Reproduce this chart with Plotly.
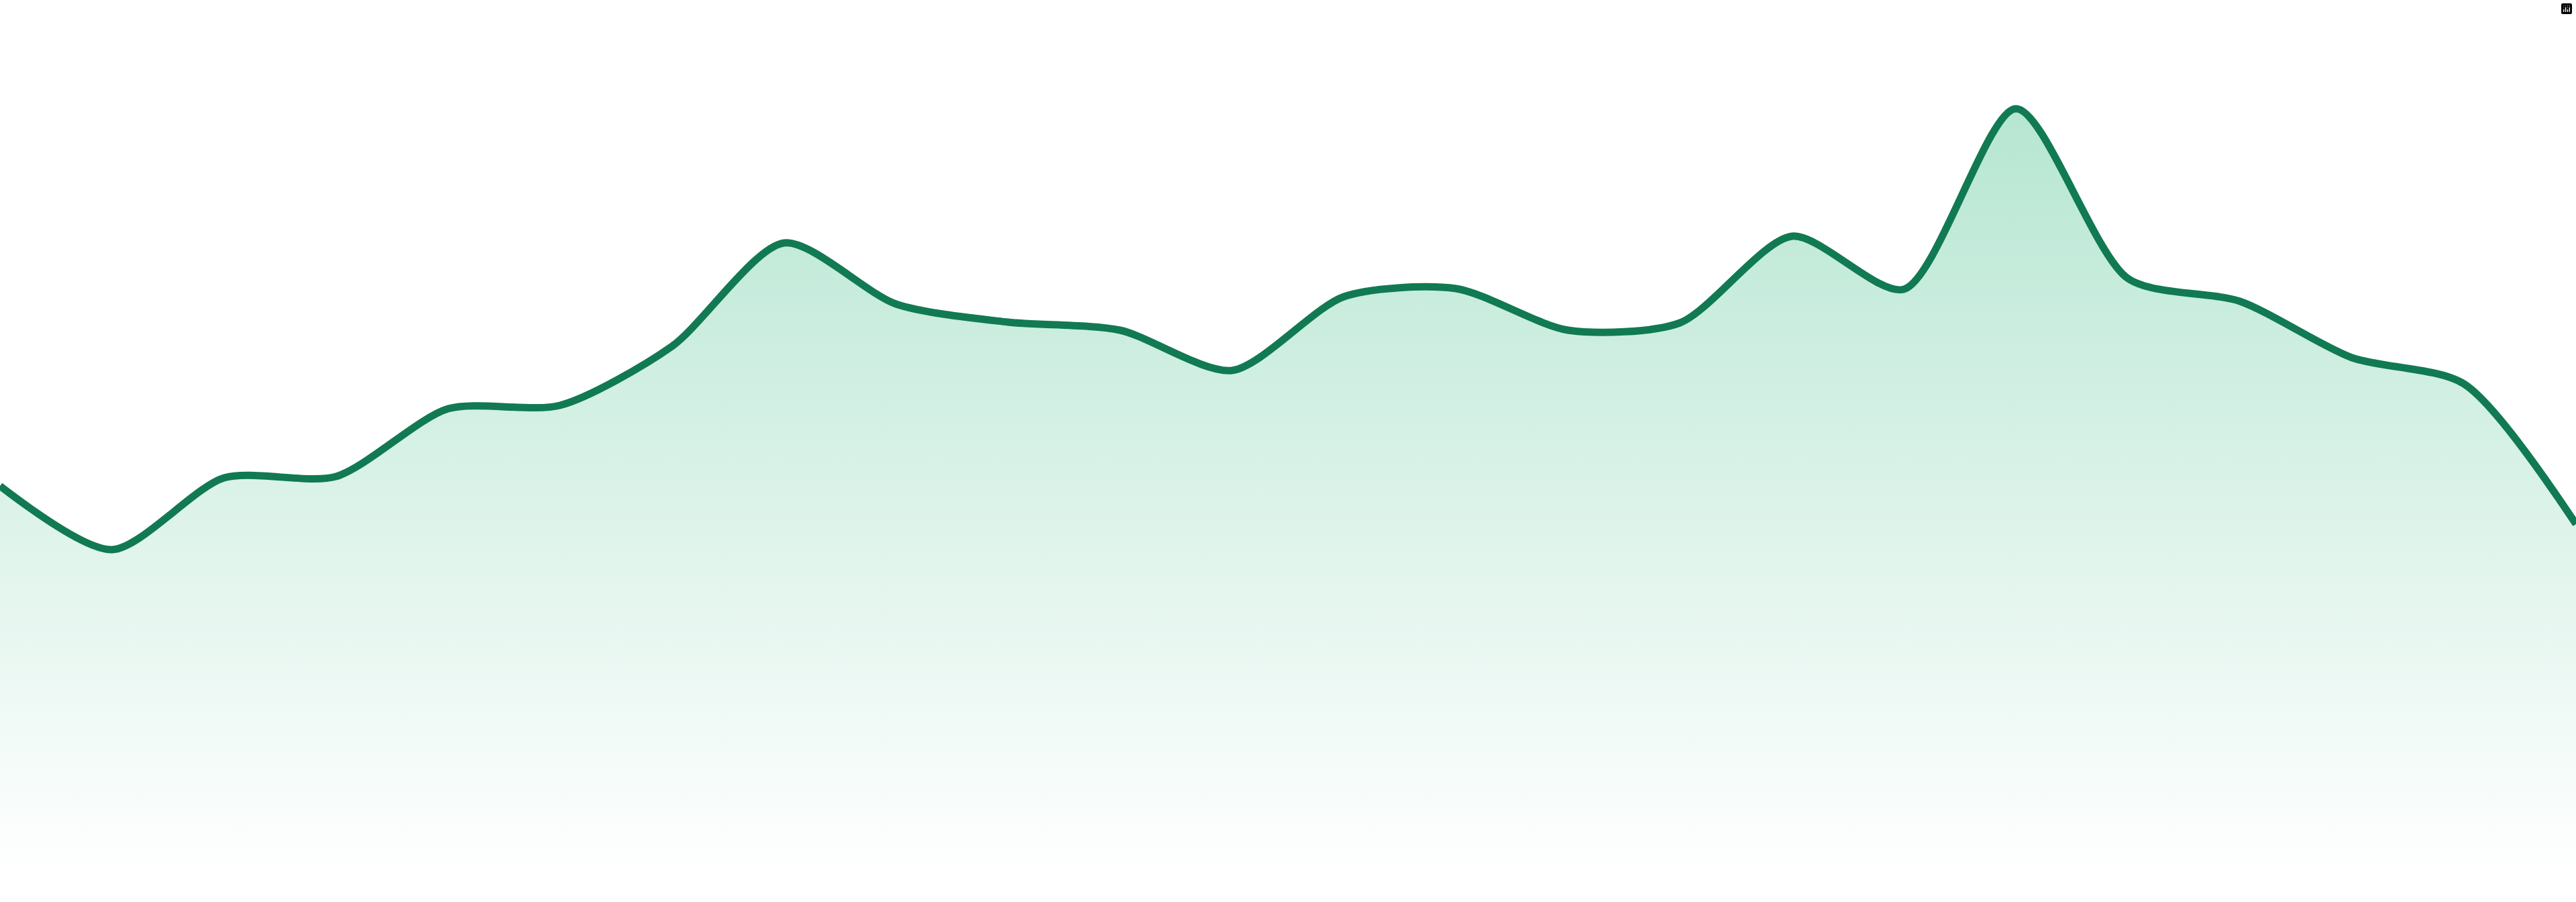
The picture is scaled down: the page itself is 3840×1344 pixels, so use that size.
import plotly.graph_objects as go

# 24 points (no axes shown in the original)
days = list(range(24))
values = [58.1, 48.6, 59.3, 59.5, 69.6, 70.1, 78.9, 94.3, 85.2, 82.5, 81.3, 75.3,
          86.3, 87.5, 81.3, 82.4, 95.3, 87.4, 114.3, 89.0, 85.6, 77.2, 73.3, 52.4]

line_color = "#117a52"

fig = go.Figure()
fig.add_trace(go.Scatter(
    x=days,
    y=values,
    mode="lines",
    line=dict(color=line_color, width=11, shape="spline", smoothing=0.75),
    fill="tozeroy",
    fillgradient=dict(
        type="vertical",
        start=0,
        stop=max(values),
        colorscale=[[0, "rgba(255,255,255,1)"], [1, "rgb(182,230,210)"]],
    ),
    hoverinfo="skip",
    showlegend=False,
))

fig.update_layout(
    width=3840,
    height=1344,
    margin=dict(l=0, r=0, t=0, b=39),
    paper_bgcolor="white",
    plot_bgcolor="white",
    xaxis=dict(visible=False, range=[0, len(days) - 1]),
    yaxis=dict(visible=False, range=[0, 130.5]),
    # keep the modebar invisible
    modebar=dict(bgcolor="rgba(0,0,0,0)", color="rgba(0,0,0,0)",
                 activecolor="rgba(0,0,0,0)"),
)

# no page margin, so the plot fills the window edge to edge
fig.write_html("out.html", post_script="document.body.style.margin = '0';")
